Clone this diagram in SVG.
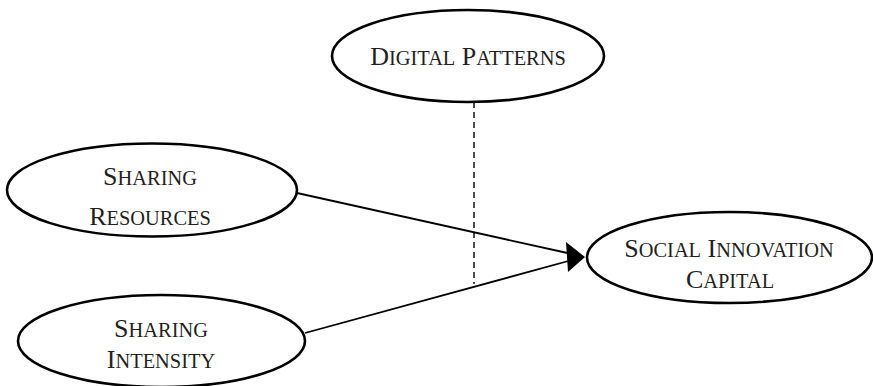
<svg xmlns="http://www.w3.org/2000/svg" width="873" height="386" viewBox="0 0 873 386">
<style>
.node ellipse{fill:#fff;stroke:#000;stroke-width:2.6}
.lbl{font-family:"Liberation Serif","Times New Roman",serif;font-size:26px;fill:#231f20;text-anchor:middle}
.sc{font-size:20.4px}
.edge{stroke:#000;stroke-width:1.8;fill:none}
.dash{stroke:#000;stroke-width:1.4;stroke-dasharray:6,4;fill:none}
</style>
<rect width="873" height="386" fill="#fff"/>
<g id="connectors">
<line class="dash" x1="474" y1="102" x2="474" y2="284"/>
<line class="edge" x1="297" y1="193" x2="572" y2="254"/>
<line class="edge" x1="305" y1="333" x2="572" y2="260"/>
<polygon points="585,257 566,242 568,272" fill="#000"/>
</g>
<g id="digital-patterns" class="node">
<ellipse cx="468" cy="56" rx="136" ry="46"/>
<text class="lbl" x="468" y="65">D<tspan class="sc">IGITAL</tspan> P<tspan class="sc">ATTERNS</tspan></text>
</g>
<g id="sharing-resources" class="node">
<ellipse cx="152" cy="190" rx="145" ry="46.5"/>
<text class="lbl" x="150" y="185">S<tspan class="sc">HARING</tspan></text>
<text class="lbl" x="150" y="225">R<tspan class="sc">ESOURCES</tspan></text>
</g>
<g id="sharing-intensity" class="node">
<ellipse cx="161.5" cy="341" rx="143.5" ry="46"/>
<text class="lbl" x="161" y="337">S<tspan class="sc">HARING</tspan></text>
<text class="lbl" x="161" y="368">I<tspan class="sc">NTENSITY</tspan></text>
</g>
<g id="social-innovation-capital" class="node">
<ellipse cx="729.5" cy="257.5" rx="142.5" ry="45.5"/>
<text class="lbl" x="729" y="257">S<tspan class="sc">OCIAL</tspan> I<tspan class="sc">NNOVATION</tspan></text>
<text class="lbl" x="730" y="288">C<tspan class="sc">APITAL</tspan></text>
</g>
</svg>
